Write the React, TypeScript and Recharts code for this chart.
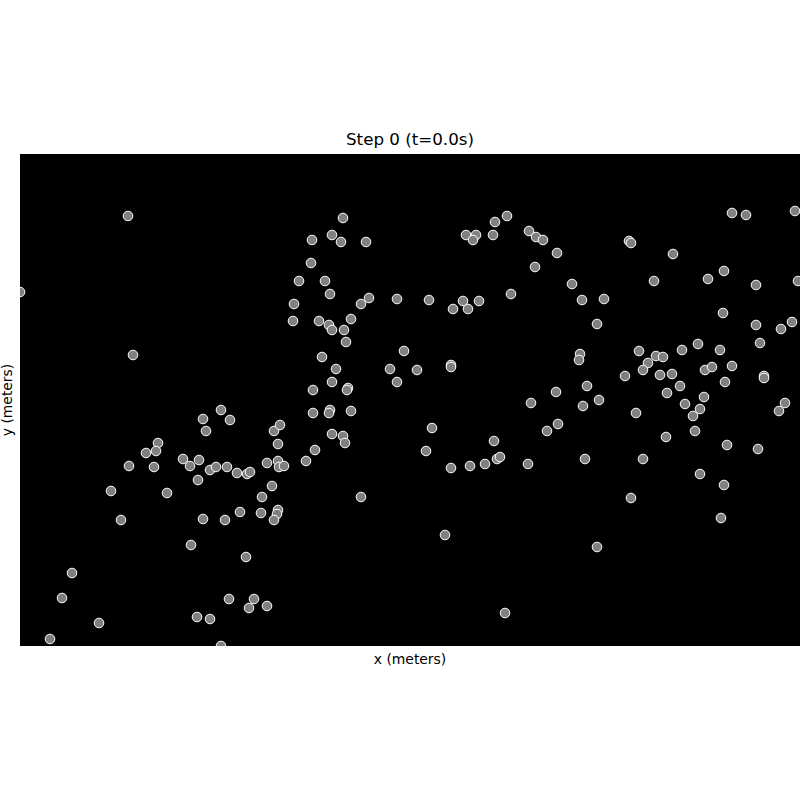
import { ScatterChart, Scatter, XAxis, YAxis, CartesianGrid } from "recharts";

// positions of the agents at step 0 (x right, y up)
const xs = [
  108, 0, 113,
  183, 201, 210, 186, 138, 136, 126, 109, 134, 163, 170, 179, 178, 190, 196, 207, 217,
  227, 230, 247, 254, 260, 258, 258, 259, 264, 252, 242, 258, 257, 254, 241, 220, 205,
  183, 147, 91, 101, 171, 226, 52, 42, 79, 30, 177, 190, 209, 234, 229, 247, 201,
  323, 292, 312, 321, 346, 291, 279, 305, 310, 274, 341, 349, 273, 299, 309, 312, 324,
  331, 326, 302, 316, 312, 293, 328, 327, 293, 310, 309, 331, 312, 323, 325, 295, 286, 341,
  377, 409, 433, 443, 448, 459, 491, 384, 370, 397, 377, 431, 431, 412, 406, 474, 431,
  450, 465, 477, 480, 508, 511, 425, 485,
  446, 456, 453, 473, 475, 487, 509, 516, 523, 537, 515, 552, 562, 584, 577,
  609, 611, 653, 712, 726, 775, 634, 688, 704, 736, 778, 703, 736, 761, 772, 740, 560,
  559, 619, 636, 643, 628, 623, 605, 640, 652, 662, 678, 700, 685, 692, 712, 705, 744,
  744, 567, 579, 563, 536, 538, 527, 647, 660, 684, 665, 680, 673, 616, 765, 759, 675,
  646, 707, 738, 565, 623, 680, 704, 611, 701, 577,
];
const ys = [
  430, 354, 291,
  227, 236, 226, 215, 203, 195, 193, 180, 179, 187, 180, 186, 166, 176, 179, 179, 173,
  172, 174, 183, 215, 221, 202, 185, 179, 180, 160, 149, 136, 132, 126, 133, 134, 126,
  127, 153, 155, 126, 101, 89, 73, 48, 23, 7, 29, 27, 47, 47, 38, 40, 0,
  428, 406, 411, 404, 404, 383, 365, 365, 352, 342, 342, 348, 325, 325, 321, 316, 316,
  327, 304, 289, 277, 264, 256, 258, 256, 233, 236, 233, 235, 212, 210, 203, 196, 185, 149,
  347, 346, 337, 345, 337, 345, 352, 295, 277, 276, 264, 281, 279, 218, 195, 205, 178,
  180, 182, 187, 189, 182, 243, 111, 33,
  411, 411, 406, 411, 424, 430, 415, 409, 406, 393, 379, 362, 346, 347, 322,
  405, 403, 392, 433, 431, 435, 365, 367, 375, 361, 365, 333, 321, 317, 324, 303, 292,
  286, 295, 290, 289, 283, 276, 270, 271, 272, 296, 302, 296, 276, 279, 280, 264, 270,
  268, 260, 246, 240, 254, 222, 215, 253, 260, 249, 242, 237, 230, 233, 243, 235, 215,
  209, 201, 197, 187, 187, 172, 161, 148, 128, 99,
];

const title = "Step 0 (t=0.0s)";
const xLabel = "x (meters)";
const yLabel = "y (meters)";

const data = xs.map((x, i) => ({ x, y: ys[i] }));

const font = "DejaVu Sans, sans-serif";

function Dot(props: any) {
  return <circle cx={props.cx} cy={props.cy} r={4.8} fill="#808080" stroke="#fff" strokeWidth={1} />;
}

export default function App() {
  return (
    <div style={{ position: "absolute", left: 0, top: 0, width: 800, height: 800, background: "#fff" }}>
      <ScatterChart width={800} height={800} margin={{ top: 154, right: 0, bottom: 154, left: 20 }}>
        <CartesianGrid fill="#000" fillOpacity={1} stroke="none" />
        <XAxis type="number" dataKey="x" domain={[0, 780]} hide allowDataOverflow />
        <YAxis type="number" dataKey="y" domain={[0, 492]} hide allowDataOverflow />
        <Scatter data={data} shape={Dot} isAnimationActive={false} />
      </ScatterChart>
      <svg width={800} height={800} style={{ position: "absolute", left: 0, top: 0, pointerEvents: "none" }}>
        <text x={410} y={145} textAnchor="middle" fontFamily={font} fontSize={16.7} fill="#000">
          {title}
        </text>
        <text x={410} y={664} textAnchor="middle" fontFamily={font} fontSize={13.9} fill="#000">
          {xLabel}
        </text>
        <text
          x={0}
          y={0}
          transform="translate(12,400) rotate(-90)"
          textAnchor="middle"
          fontFamily={font}
          fontSize={13.9}
          fill="#000"
        >
          {yLabel}
        </text>
      </svg>
    </div>
  );
}
